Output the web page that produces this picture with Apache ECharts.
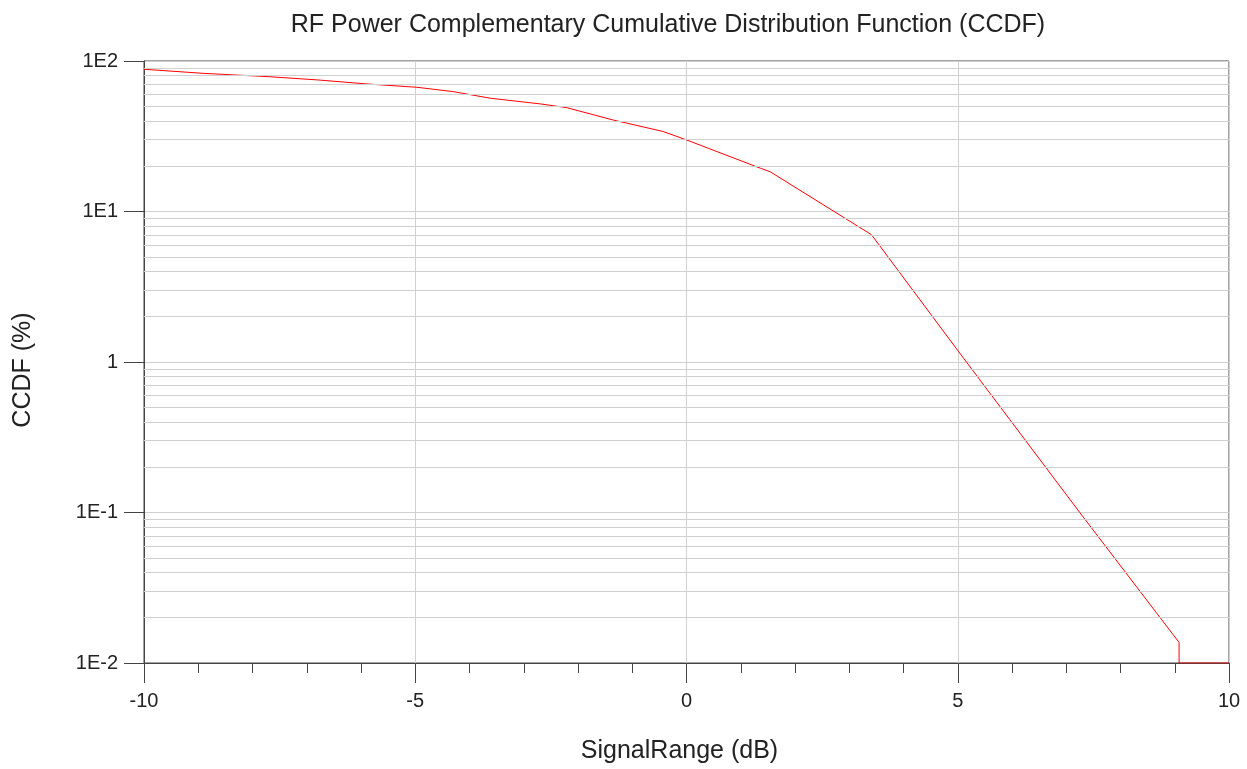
<!DOCTYPE html>
<html>
<head>
<meta charset="utf-8">
<title>CCDF</title>
<script src="https://cdn.jsdelivr.net/npm/echarts@6/dist/echarts.min.js"></script>
<style>
  html, body { margin: 0; padding: 0; background: #fff; }
  #chart { width: 1247px; height: 769px; }
</style>
</head>
<body>
<div id="chart"></div>
<script>
// signal range (dB) vs CCDF (%)
const signalDb = [-10, -8.91, -7.71, -6.79, -5.89, -4.97, -4.3, -3.62, -2.7, -2.21, -1.36, -0.43, 0.0, 1.36, 1.54, 3.41, 5.01, 7.25, 9.08, 9.08, 10];
const ccdfPct = [88.1, 82.8, 78.7, 74.8, 70.4, 66.9, 62.6, 56.6, 51.9, 49.0, 40.6, 34.0, 29.9, 19.4, 18.4, 7.01, 1.18, 0.0999, 0.0137, 0.01, 0.01];

const yTickValues = [0.01, 0.1, 1, 10, 100];
const yTickLabels = ["1E-2", "1E-1", "1", "1E1", "1E2"];

const textFont = "Liberation Sans";
const textColor = "#222";

// minor log gridlines (2..9 in each decade)
const minorGrid = [];
for (let d = 0; d < yTickValues.length - 1; d++) {
  for (let m = 2; m <= 9; m++) {
    minorGrid.push({ yAxis: m * yTickValues[d] });
  }
}

const chart = echarts.init(document.getElementById("chart"));
chart.setOption({
  animation: false,
  title: {
    text: "RF Power Complementary Cumulative Distribution Function (CCDF)",
    left: 663,
    textAlign: "center",
    top: 8,
    textStyle: {
      fontFamily: textFont,
      fontSize: 25,
      fontWeight: "normal",
      color: textColor
    }
  },
  grid: {
    left: 144,
    right: 18,
    top: 61,
    bottom: 105,
    show: true,
    borderColor: "#444",
    borderWidth: 1,
    containLabel: false
  },
  xAxis: {
    type: "value",
    min: -10,
    max: 10,
    interval: 5,
    name: "SignalRange (dB)",
    nameLocation: "middle",
    nameGap: 76,
    nameTextStyle: {
      fontFamily: textFont,
      fontSize: 25,
      color: textColor,
      padding: [0, 14, 0, 0]
    },
    axisLine: { show: true, onZero: false, lineStyle: { color: "#444", width: 1 } },
    axisTick: { show: true, length: 20, lineStyle: { color: "#444" } },
    minorTick: { show: true, splitNumber: 5, length: 10, lineStyle: { color: "#444" } },
    axisLabel: {
      margin: 28,
      fontFamily: textFont,
      fontSize: 20,
      color: textColor
    },
    splitLine: { show: true, lineStyle: { color: "#d0d0d0", width: 1 } }
  },
  yAxis: {
    type: "log",
    logBase: 10,
    min: 0.01,
    max: 100,
    name: "CCDF (%)",
    nameLocation: "middle",
    nameGap: 108,
    nameTextStyle: {
      fontFamily: textFont,
      fontSize: 25,
      color: textColor,
      padding: [0, 16, 0, 0]
    },
    axisLine: { show: true, onZero: false, lineStyle: { color: "#444", width: 1 } },
    axisTick: { show: true, length: 20, lineStyle: { color: "#444" } },
    axisLabel: {
      margin: 26,
      fontFamily: textFont,
      fontSize: 20,
      color: textColor,
      formatter: function(v) {
        const i = yTickValues.findIndex(t => Math.abs(Math.log10(t) - Math.log10(v)) < 1e-6);
        return i >= 0 ? yTickLabels[i] : "";
      }
    },
    splitLine: { show: true, lineStyle: { color: "#d0d0d0", width: 1 } }
  },
  series: [
    {
      name: "minor grid",
      type: "line",
      data: [],
      silent: true,
      z: 1,
      markLine: {
        silent: true,
        symbol: ["none", "none"],
        label: { show: false },
        lineStyle: { color: "#d0d0d0", type: "solid", width: 1 },
        emphasis: { disabled: true },
        data: minorGrid
      }
    },
    {
      name: "CCDF",
      type: "line",
      z: 3,
      data: signalDb.map((x, i) => [x, ccdfPct[i]]),
      showSymbol: false,
      symbol: "none",
      smooth: false,
      lineStyle: { color: "#ff0000", width: 1 },
      itemStyle: { color: "#ff0000" }
    }
  ]
});
</script>
</body>
</html>
